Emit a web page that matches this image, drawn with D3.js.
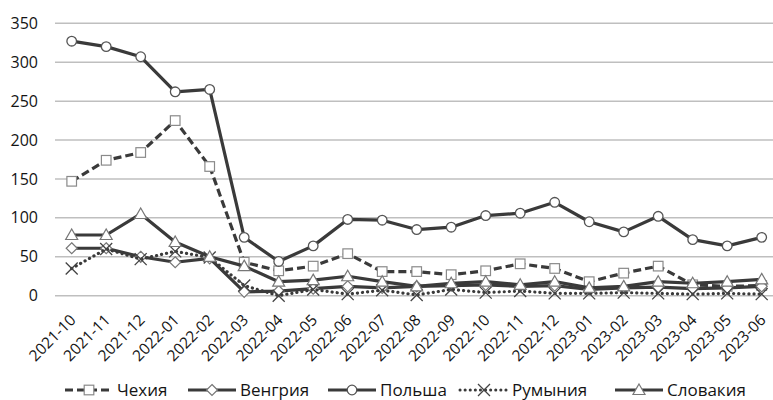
<!DOCTYPE html>
<html><head><meta charset="utf-8">
<script src="https://cdn.jsdelivr.net/npm/d3@7"></script>
<style>body{margin:0;background:#fff}svg{display:block;font-family:"Open Sans",Lato,sans-serif}</style>
</head><body><svg id="c" width="773" height="400"></svg>
<script>
const months = ["2021-10","2021-11","2021-12","2022-01","2022-02","2022-03","2022-04","2022-05","2022-06","2022-07","2022-08","2022-09","2022-10","2022-11","2022-12","2023-01","2023-02","2023-03","2023-04","2023-05","2023-06"];
const czech    = [147,174,184,225,166,43,32,38,54,31,31,27,32,41,35,18,29,38,14,12,13];
const hungary  = [61,61,50,43,48,5,6,9,12,10,12,13,14,12,13,8,10,11,9,10,12];
const poland   = [327,320,307,262,265,75,44,64,98,97,85,88,103,106,120,95,82,102,72,64,75];
const romania  = [35,60,47,57,49,13,0,8,2,7,1,8,4,6,3,3,4,3,2,3,2];
const slovakia = [78,78,105,69,50,38,18,20,25,18,12,16,18,14,18,10,12,18,16,18,21];
const yTicks = [0,50,100,150,200,250,300,350];
const seriesNames = ["Чехия","Венгрия","Польша","Румыния","Словакия"];

const series = [
  {name: seriesNames[0], values: czech,    dash: "8,4", marker: "square"},
  {name: seriesNames[1], values: hungary,  dash: null,  marker: "diamond"},
  {name: seriesNames[2], values: poland,   dash: null,  marker: "circle"},
  {name: seriesNames[3], values: romania,  dash: "2,3", marker: "x"},
  {name: seriesNames[4], values: slovakia, dash: null,  marker: "triangle"}
];

const svg = d3.select("#c");
const x = d3.scalePoint().domain(months).range([71.7, 761.7]);
const y = d3.scaleLinear().domain([0, 350]).range([295.7, 23.3]);
const textColor = "#141414";

// gridlines
svg.append("g").selectAll("line").data(yTicks).join("line")
  .attr("x1", 55).attr("x2", 773)
  .attr("y1", d => y(d)).attr("y2", d => y(d))
  .attr("stroke", "#bfbfbf").attr("stroke-width", 1.5);

// y axis labels
const yAxis = d3.axisLeft(y).tickValues(yTicks).tickSize(0).tickPadding(0);
const ya = svg.append("g").attr("transform", "translate(38,0)").call(yAxis);
ya.select(".domain").remove();
ya.selectAll("text").attr("font-size", 16).attr("fill", textColor).attr("font-family", "Open Sans");

// x axis labels
const xa = svg.append("g");
xa.selectAll("text").data(months).join("text")
  .attr("transform", d => `translate(${x(d) + 5},${321}) rotate(-45)`)
  .attr("text-anchor", "end")
  .attr("font-size", 15.5).attr("fill", textColor)
  .text(d => d);

const lineColor = "#3a3a3a";
function drawMarker(g, type, cx, cy) {
  const s = 4.8;
  if (type === "square") {
    g.append("rect").attr("x", cx - s).attr("y", cy - s).attr("width", 2*s).attr("height", 2*s)
      .attr("fill", "#fff").attr("stroke", "#8a8a8a").attr("stroke-width", 1.2);
  } else if (type === "circle") {
    g.append("circle").attr("cx", cx).attr("cy", cy).attr("r", 4.8)
      .attr("fill", "#fff").attr("stroke", "#555").attr("stroke-width", 1.3);
  } else if (type === "diamond") {
    g.append("path").attr("d", `M${cx},${cy-5.5}L${cx+5.5},${cy}L${cx},${cy+5.5}L${cx-5.5},${cy}Z`)
      .attr("fill", "#fff").attr("stroke", "#777").attr("stroke-width", 1.2);
  } else if (type === "triangle") {
    g.append("path").attr("d", `M${cx},${cy-6}L${cx+6},${cy+4.5}L${cx-6},${cy+4.5}Z`)
      .attr("fill", "#fff").attr("stroke", "#777").attr("stroke-width", 1.2);
  } else if (type === "x") {
    g.append("path").attr("d", `M${cx-6},${cy-6}L${cx+6},${cy+6}M${cx-6},${cy+6}L${cx+6},${cy-6}`)
      .attr("stroke", "#444").attr("stroke-width", 1.3).attr("fill", "none");
  }
}

const line = d3.line().x((d, i) => x(months[i])).y(d => y(d));
series.forEach(s => {
  const g = svg.append("g");
  g.append("path").datum(s.values).attr("d", line)
    .attr("fill", "none").attr("stroke", lineColor).attr("stroke-width", 3.2)
    .attr("stroke-linejoin", "round")
    .attr("stroke-linecap", s.marker === "x" ? "round" : "butt")
    .attr("stroke-dasharray", s.marker === "x" ? "0.1,5" : s.dash);
  s.values.forEach((v, i) => drawMarker(g, s.marker, x(months[i]), y(v)));
});

// legend
const legendX = [65, 188, 328, 460, 615];
const lg = svg.append("g");
series.forEach((s, i) => {
  const lx = legendX[i], ly = 390;
  const g = lg.append("g");
  g.append("line").attr("x1", lx).attr("x2", lx + 48).attr("y1", ly).attr("y2", ly)
    .attr("stroke", lineColor).attr("stroke-width", 3)
    .attr("stroke-linecap", s.marker === "x" ? "round" : "butt")
    .attr("stroke-dasharray", s.marker === "x" ? "0.1,5" : s.dash);
  drawMarker(g, s.marker, lx + 24, ly);
  g.append("text").attr("x", lx + 52).attr("y", ly + 6)
    .attr("font-size", 17).attr("fill", textColor).text(s.name);
});
</script></body></html>
